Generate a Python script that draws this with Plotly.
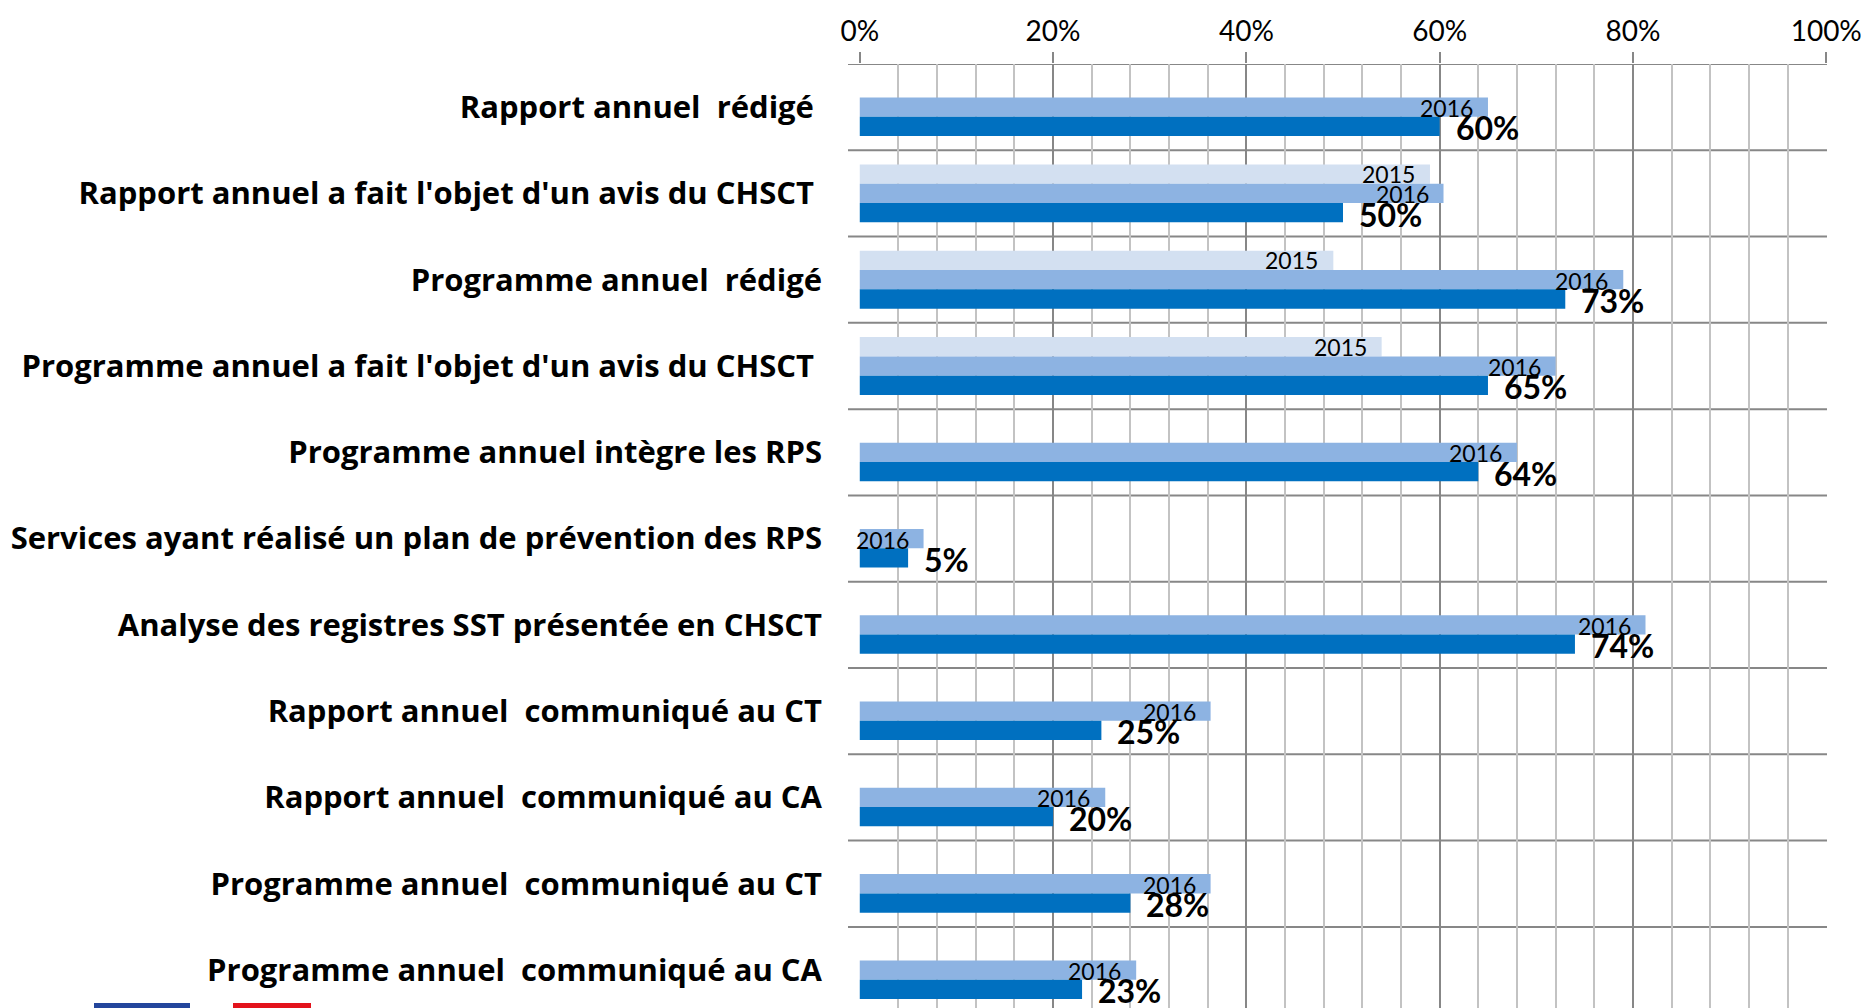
import plotly.graph_objects as go

NB = "\u00a0"
categories = [
    "Rapport annuel  rédigé" + NB,
    "Rapport annuel a fait l'objet d'un avis du CHSCT" + NB,
    "Programme annuel  rédigé",
    "Programme annuel a fait l'objet d'un avis du CHSCT" + NB,
    "Programme annuel intègre les RPS",
    "Services ayant réalisé un plan de prévention des RPS",
    "Analyse des registres SST présentée en CHSCT",
    "Rapport annuel  communiqué au CT",
    "Rapport annuel  communiqué au CA",
    "Programme annuel  communiqué au CT",
    "Programme annuel  communiqué au CA",
]
values_2015 = [None, 0.59, 0.49, 0.54, None, None, None, None, None, None, None]
values_2016 = [0.65, 0.604, 0.79, 0.72, 0.68, 0.066, 0.813, 0.363, 0.254, 0.363, 0.286]
values_2017 = [0.60, 0.50, 0.73, 0.65, 0.64, 0.05, 0.74, 0.25, 0.20, 0.28, 0.23]
labels_2017 = ["60%", "50%", "73%", "65%", "64%", "5%", "74%", "25%", "20%", "28%", "23%"]
x_ticks = [0, 0.2, 0.4, 0.6, 0.8, 1.0]

W, H = 1861, 1008
M_L, M_R, M_T, M_B = 859, 34, 64, 0
Y_RANGE = [10.44, -0.5]
BARGAP = 0.33
band_px = (H - M_T - M_B) / (Y_RANGE[0] - Y_RANGE[1])
bar_px = band_px * (1 - BARGAP) / 3

FONT = "Lato"
LABEL_FONT = "Open Sans"
C15, C16, C17 = "#D3E0F1", "#8DB3E2", "#0070C0"

fig = go.Figure()
for name, vals, col in [("2015", values_2015, C15), ("2016", values_2016, C16), ("2017", values_2017, C17)]:
    fig.add_trace(go.Bar(
        y=list(range(len(categories))), x=vals, orientation="h", name=name,
        marker=dict(color=col, line=dict(width=0)), hoverinfo="x+name",
    ))

annotations = []
for i, v in enumerate(values_2015):
    if v is not None:
        annotations.append(dict(x=v, y=i, xref="x", yref="y", text="2015", showarrow=False,
                                xanchor="right", yanchor="middle", xshift=-13, yshift=bar_px,
                                font=dict(family=FONT, size=23, color="black")))
for i, v in enumerate(values_2016):
    annotations.append(dict(x=v, y=i, xref="x", yref="y", text="2016", showarrow=False,
                            xanchor="right", yanchor="middle", xshift=-13, yshift=-1,
                            font=dict(family=FONT, size=23, color="black")))
for i, (v, t) in enumerate(zip(values_2017, labels_2017)):
    annotations.append(dict(x=v, y=i, xref="x", yref="y", text="<b>%s</b>" % t, showarrow=False,
                            xanchor="left", yanchor="middle", xshift=14, yshift=-bar_px - 1.5,
                            font=dict(family=FONT, size=32, color="black")))

PW = W - M_L - M_R
PH = H - M_T - M_B
fig.update_layout(
    width=W, height=H,
    margin=dict(l=M_L, r=M_R, t=M_T, b=M_B, pad=0),
    paper_bgcolor="white", plot_bgcolor="white",
    barmode="group", bargap=BARGAP, bargroupgap=0,
    showlegend=False,
    annotations=annotations,
    font=dict(family=FONT, color="black"),
    xaxis=dict(
        range=[-0.0008, 1.0008], side="top", tickmode="array", tickvals=x_ticks,
        tickformat=".0%", showgrid=True, gridcolor="#878787", gridwidth=2,
        ticks="outside", ticklen=11, tickwidth=2, tickcolor="#878787",
        tickfont=dict(family=FONT, size=28, color="black"),
        ticklabeloverflow="allow",
        minor=dict(dtick=0.04, tick0=0, showgrid=True, gridcolor="#C3C3C3", gridwidth=2),
        zeroline=False, showline=False, fixedrange=True,
    ),
    yaxis=dict(
        range=Y_RANGE, tickmode="array", tickvals=list(range(len(categories))),
        ticktext=["<b>%s</b>" % c for c in categories],
        showgrid=False, ticks="", zeroline=False, showline=False,
        tickfont=dict(family=LABEL_FONT, size=31, color="black"),
        ticklabeloverflow="allow",
        ticklabelstandoff=36, fixedrange=True,
    ),
    shapes=[
        dict(type="rect", xref="paper", yref="paper",
             x0=(94 - M_L) / PW, x1=(190 - M_L) / PW,
             y0=-0.01, y1=(H - 1003) / PH, fillcolor="#23469C", line=dict(width=0)),
        dict(type="rect", xref="paper", yref="paper",
             x0=(233 - M_L) / PW, x1=(311 - M_L) / PW,
             y0=-0.01, y1=(H - 1003) / PH, fillcolor="#E3131C", line=dict(width=0)),
    ] + [
        dict(type="line", xref="paper", yref="y", x0=-11 / PW, x1=1,
             y0=b, y1=b, line=dict(color="#878787", width=2), layer="below")
        for b in [k - 0.5 for k in range(len(categories) + 1)]
    ],
)

fig.write_html(
    "out.html",
    config={"displayModeBar": False},
    post_script="document.body.style.margin='0';document.body.style.overflow='hidden';",
)
